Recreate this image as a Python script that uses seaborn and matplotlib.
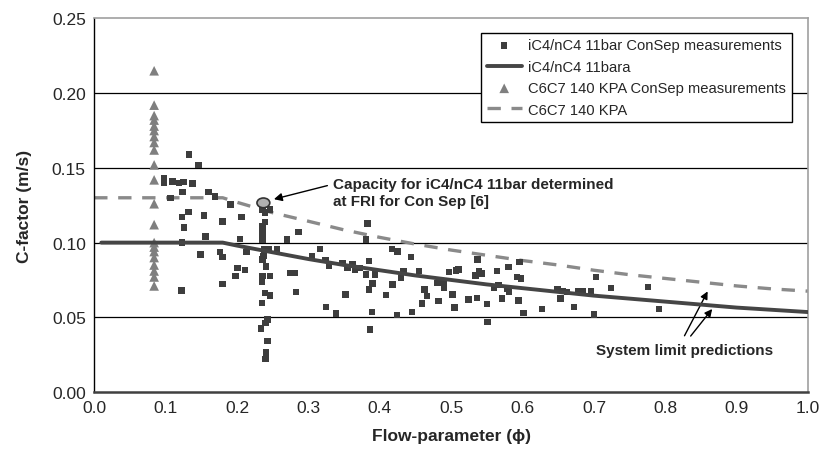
import matplotlib
matplotlib.use("Agg")
import matplotlib.pyplot as plt
import seaborn as sns
from matplotlib.patches import Ellipse

# --- data ---
# iC4/nC4 11bar ConSep measurements (flow parameter, C-factor)
sq_x = [0.133, 0.146, 0.098, 0.098, 0.110, 0.119, 0.125, 0.124, 0.138, 0.107,
        0.160, 0.169, 0.132, 0.123, 0.154, 0.126, 0.180, 0.156, 0.123, 0.149,
        0.176, 0.180, 0.122, 0.191, 0.206, 0.180, 0.198, 0.201, 0.211, 0.204,
        0.213, 0.246, 0.239, 0.236, 0.239, 0.236, 0.236, 0.236, 0.238, 0.245,
        0.236, 0.237, 0.241, 0.246, 0.236, 0.235, 0.239, 0.246, 0.235, 0.243,
        0.240, 0.234, 0.243, 0.241, 0.240, 0.256, 0.270, 0.274, 0.281, 0.283,
        0.286, 0.305, 0.316, 0.324, 0.329, 0.325, 0.339, 0.348, 0.355, 0.362,
        0.365, 0.352, 0.372, 0.381, 0.393, 0.383, 0.381, 0.385, 0.390, 0.389,
        0.386, 0.409, 0.418, 0.417, 0.424, 0.385, 0.425, 0.433, 0.430, 0.444,
        0.445, 0.455, 0.463, 0.466, 0.459, 0.481, 0.482, 0.490, 0.490, 0.502,
        0.505, 0.497, 0.507, 0.510, 0.524, 0.536, 0.534, 0.539, 0.543, 0.537,
        0.550, 0.551, 0.560, 0.566, 0.564, 0.571, 0.579, 0.581, 0.580, 0.592,
        0.598, 0.596, 0.594, 0.601, 0.627, 0.649, 0.653, 0.656, 0.662, 0.672,
        0.678, 0.684, 0.696, 0.700, 0.703, 0.724, 0.776, 0.791]
sq_y = [0.159, 0.152, 0.143, 0.140, 0.141, 0.140, 0.1405, 0.134, 0.1395, 0.130,
        0.134, 0.131, 0.1206, 0.117, 0.118, 0.110, 0.114, 0.104, 0.100, 0.092,
        0.0936, 0.0905, 0.068, 0.1255, 0.117, 0.0724, 0.0775, 0.083, 0.0815, 0.1025,
        0.0936, 0.122, 0.120, 0.122, 0.1137, 0.111, 0.1066, 0.102, 0.0954, 0.0954,
        0.0887, 0.091, 0.084, 0.0775, 0.0775, 0.0735, 0.0664, 0.0646, 0.0597, 0.0485,
        0.0463, 0.0425, 0.034, 0.0266, 0.0222, 0.0954, 0.102, 0.0798, 0.0798, 0.0668,
        0.107, 0.091, 0.0958, 0.0882, 0.0842, 0.057, 0.0525, 0.0865, 0.083, 0.0853,
        0.082, 0.0653, 0.083, 0.0786, 0.0786, 0.1128, 0.102, 0.0686, 0.0726, 0.0537,
        0.0418, 0.0648, 0.072, 0.0958, 0.0514, 0.0876, 0.0942, 0.0809, 0.0764, 0.0905,
        0.0534, 0.0809, 0.0686, 0.0641, 0.0592, 0.073, 0.061, 0.073, 0.0697, 0.0653,
        0.0564, 0.0802, 0.0813, 0.082, 0.0619, 0.063, 0.078, 0.0809, 0.0793, 0.0887,
        0.059, 0.047, 0.0697, 0.0715, 0.0809, 0.0626, 0.069, 0.0668, 0.0838, 0.0771,
        0.076, 0.0871, 0.0612, 0.053, 0.0557, 0.0686, 0.0626, 0.0675, 0.0668, 0.0568,
        0.0675, 0.0675, 0.0675, 0.0519, 0.0771, 0.0697, 0.0704, 0.0557]

# C6C7 140 KPA ConSep measurements
tri_x = [0.084, 0.084, 0.084, 0.084, 0.084, 0.084, 0.084, 0.084, 0.084, 0.084,
         0.084, 0.084, 0.084, 0.084, 0.084, 0.084, 0.084, 0.084, 0.084, 0.084, 0.084]
tri_y = [0.215, 0.192, 0.185, 0.182, 0.178, 0.175, 0.171, 0.167, 0.162, 0.152,
         0.142, 0.126, 0.112, 0.100, 0.097, 0.094, 0.090, 0.085, 0.081, 0.077, 0.071]

# system limit predictions
ic4_x = [0.01, 0.05, 0.10, 0.15, 0.18, 0.20, 0.25, 0.30, 0.35, 0.40, 0.45,
         0.50, 0.55, 0.60, 0.65, 0.70, 0.75, 0.80, 0.85, 0.90, 0.95, 1.00]
ic4_y = [0.100, 0.100, 0.100, 0.100, 0.100, 0.098, 0.0935, 0.089, 0.085, 0.0815, 0.078,
         0.075, 0.072, 0.0695, 0.067, 0.0645, 0.0625, 0.0605, 0.0585, 0.0565, 0.055, 0.0535]
c6_x = [0.0, 0.05, 0.10, 0.15, 0.18, 0.20, 0.25, 0.30, 0.35, 0.40, 0.45,
        0.50, 0.55, 0.60, 0.65, 0.70, 0.75, 0.80, 0.85, 0.90, 0.95, 1.00]
c6_y = [0.130, 0.130, 0.130, 0.130, 0.130, 0.127, 0.120, 0.1143, 0.1085, 0.1035, 0.099,
        0.095, 0.0915, 0.088, 0.085, 0.0815, 0.0785, 0.076, 0.0735, 0.071, 0.069, 0.0675]

# FRI capacity point
fri_x, fri_y = 0.237, 0.1266

x_ticks = [0.0, 0.1, 0.2, 0.3, 0.4, 0.5, 0.6, 0.7, 0.8, 0.9, 1.0]
y_ticks = [0.00, 0.05, 0.10, 0.15, 0.20, 0.25]

sns.set_style("white")
plt.rcParams['font.family'] = ['Liberation Sans', 'DejaVu Sans']

fig = plt.figure(figsize=(8.26, 4.52), dpi=100)
ax = fig.add_axes([0.114, 0.1305, 0.8644, 0.8264])

# horizontal grid lines
for yv in y_ticks[1:-1]:
    ax.axhline(yv, color="black", lw=0.9, zorder=0)

sns.scatterplot(x=sq_x, y=sq_y, marker="s", s=22, color="#3d3d3d", edgecolor="none",
                ax=ax, label="iC4/nC4 11bar ConSep measurements", zorder=3)
sns.lineplot(x=ic4_x, y=ic4_y, color="#454545", lw=2.8, ax=ax,
             label="iC4/nC4 11bara", zorder=4)
sns.scatterplot(x=tri_x, y=tri_y, marker="^", s=48, color="#7f7f7f", edgecolor="none",
                ax=ax, label="C6C7 140 KPA ConSep measurements", zorder=3)
sns.lineplot(x=c6_x, y=c6_y, color="#8a8a8a", lw=2.4, ax=ax, label="C6C7 140 KPA", zorder=2)
ax.lines[-1].set_dashes([4, 3.2])

ax.add_patch(Ellipse((fri_x, fri_y), 0.018, 0.0065, facecolor="#b0b0b0",
                     edgecolor="#333333", lw=1.2, zorder=6))

ax.annotate("Capacity for iC4/nC4 11bar determined\nat FRI for Con Sep [6]",
            xy=(fri_x + 0.011, fri_y + 0.002), xytext=(0.335, 0.1335),
            fontsize=11, fontweight="bold", va="center", ha="left", linespacing=1.2,
            arrowprops=dict(arrowstyle="-|>", color="black", lw=1, mutation_scale=12,
                            relpos=(0, 0.78)))

ax.text(0.827, 0.028, "System limit predictions", fontsize=11, fontweight="bold",
        ha="center", va="center")
for tx, ty in [(0.861, 0.069), (0.868, 0.057)]:
    ax.annotate("", xy=(tx, ty), xytext=(0.825 if ty > 0.06 else 0.833, 0.036),
                arrowprops=dict(arrowstyle="-|>", color="black", lw=1, mutation_scale=11))

ax.set_xlim(0, 1.0)
ax.set_ylim(0, 0.25)
ax.set_xticks(x_ticks)
ax.set_yticks(y_ticks)
ax.set_xticklabels([f"{v:.1f}" for v in x_ticks], fontsize=12.5)
ax.set_yticklabels([f"{v:.2f}" for v in y_ticks], fontsize=12.5)
ax.tick_params(axis="both", direction="out", length=4, width=1, color="black", pad=2)
ax.set_xlabel("Flow-parameter (\u03d5)", fontsize=12.5, fontweight="bold", labelpad=9)
ax.set_ylabel("C-factor (m/s)", fontsize=12.5, fontweight="bold", labelpad=14)

for side in ["top", "right"]:
    ax.spines[side].set_color("#a0a0a0")
    ax.spines[side].set_linewidth(1.2)
ax.spines["left"].set_color("black")
ax.spines["left"].set_linewidth(1.0)
ax.spines["bottom"].set_color("#404040")
ax.spines["bottom"].set_linewidth(1.8)

leg = ax.legend(loc="upper right", bbox_to_anchor=(0.987, 0.982), fontsize=10.6,
                frameon=True, fancybox=False, framealpha=1, edgecolor="black",
                handlelength=2.4, labelspacing=0.5, borderpad=0.4, handletextpad=0.4)
leg.get_frame().set_linewidth(1.0)

fig.savefig("out.png", dpi=100)
